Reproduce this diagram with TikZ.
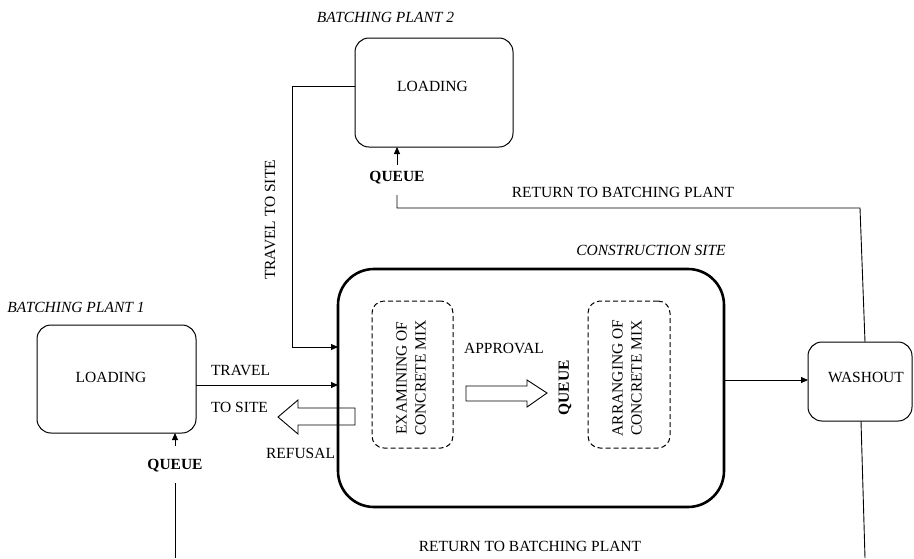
\documentclass[tikz,border=0pt]{standalone}
\usepackage{fontspec}
\setmainfont{Liberation Serif}
\usetikzlibrary{arrows.meta}
\begin{document}
\begin{tikzpicture}[x=1pt,y=-1pt,
  box/.style={draw, rounded corners=14pt, line width=1pt, inner sep=0pt, outer sep=0pt},
  bigbox/.style={draw, rounded corners=36pt, line width=2.6pt, inner sep=0pt, outer sep=0pt},
  dbox/.style={draw, dash pattern=on 5pt off 3pt, rounded corners=12pt, line width=1pt, inner sep=0pt, outer sep=0pt},
  txt/.style={inner sep=0pt, outer sep=0pt, font=\fontsize{15.5}{19}\selectfont},
  itxt/.style={txt, font=\fontsize{15.5}{19}\selectfont\itshape},
  btxt/.style={txt, font=\fontsize{15.5}{19}\selectfont\bfseries},
  conn/.style={line width=0.9pt},
  arr/.style={conn, -{Triangle[length=7pt,width=6pt]}},
  fatarrow/.style={draw, line width=0.9pt, fill=white}
]
\useasboundingbox (0,0) rectangle (914,558);

% boxes
\node[box, minimum width=159pt, minimum height=108pt] (bp1) at (116.5,379) {};
\node[box, minimum width=158pt, minimum height=109pt] (bp2) at (434,92.5) {};
\node[box, minimum width=104pt, minimum height=79pt] (wash) at (860,381.5) {};

% refusal arrow (under the site box)
\draw[fatarrow] (355,408) -- (298,408) -- (298,400) -- (278,417) -- (298,434) -- (298,425) -- (355,425) -- cycle;

\node[bigbox, minimum width=386pt, minimum height=238pt] (cs) at (531,388) {};

\node[dbox, minimum width=81pt, minimum height=147pt] (ex) at (412.5,374.5) {};
\node[dbox, minimum width=82pt, minimum height=147pt] (ar) at (629,374.5) {};

% approval arrow
\draw[fatarrow] (466,386) -- (527,386) -- (527,380) -- (547,393) -- (527,407) -- (527,401) -- (466,401) -- cycle;

% texts
\node[txt] (l1) at (111,377) {LOADING};
\node[txt] (l2) at (432.5,86) {LOADING};
\node[txt] (lw) at (866,377) {WASHOUT};
\node[itxt] (t1) at (76,307) {BATCHING PLANT 1};
\node[itxt] (t2) at (385.5,17) {BATCHING PLANT 2};
\node[itxt] (t3) at (651,250) {CONSTRUCTION SITE};
\node[txt, anchor=west] (trav) at (211,370) {TRAVEL};
\node[txt, anchor=west] (tosite) at (211,407) {TO SITE};
\node[txt, anchor=east] (ref) at (335,453) {REFUSAL};
\node[txt] (appr) at (504,348) {APPROVAL};
\node[btxt, rotate=90] (q3) at (565,388) {QUEUE};
\node[btxt] (q1) at (175,466) {QUEUE};
\node[btxt] (q2) at (397,178) {QUEUE};
\node[txt, rotate=90] (tts) at (270,220) {TRAVEL TO SITE};
\node[txt] (ret1) at (623,192) {RETURN TO BATCHING PLANT};
\node[txt] (ret2) at (530,546) {RETURN TO BATCHING PLANT};
\node[txt, rotate=90, align=center] (exm) at (411,378) {EXAMINING OF\\CONCRETE MIX};
\node[txt, rotate=90, align=center] (arm) at (627,378) {ARRANGING OF\\CONCRETE MIX};

% connectors
\coordinate (c1) at (292,86);
\coordinate (c2) at (292,347);
\draw[arr] (bp2.west |- c1) -- (c1) -- (c2) -- (cs.west |- c2);
\coordinate (c3) at (200,385);
\draw[arr] (bp1.east |- c3) -- (cs.west |- c3);
\coordinate (c4) at (760,380);
\draw[arr] (cs.east |- c4) -- (wash.west |- c4);

\coordinate (q2top) at (397,165);
\draw[arr] (q2top) -- (bp2.south -| q2top);
\coordinate (q2bot) at (397,195);
\coordinate (c5) at (397,208);
\coordinate (c6) at (860,208);
\coordinate (c7) at (865,342);
\draw[conn] (q2bot) -- (c5) -- (c6) -- (c7);

\coordinate (q1top) at (175,446);
\draw[arr] (q1top) -- (bp1.south -| q1top);
\coordinate (q1bot) at (175,483);
\coordinate (c8) at (175,558);
\draw[conn] (q1bot) -- (c8);

\coordinate (c9) at (861,421);
\coordinate (c10) at (865,558);
\draw[conn] (c9) -- (c10);
\end{tikzpicture}
\end{document}
